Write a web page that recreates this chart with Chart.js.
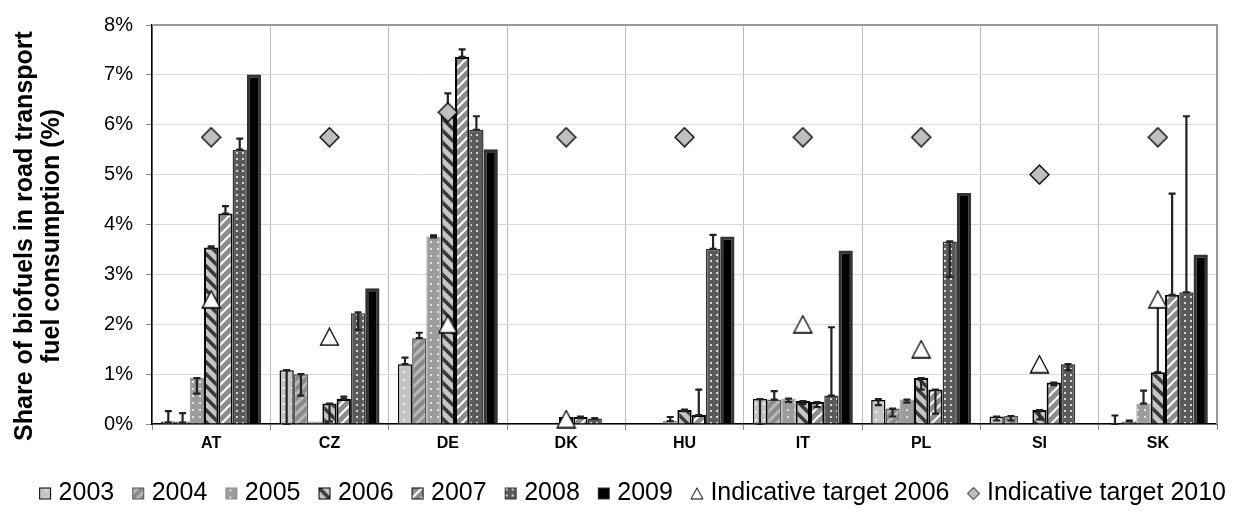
<!DOCTYPE html>
<html><head><meta charset="utf-8">
<script src="https://cdn.jsdelivr.net/npm/chart.js@4.4.1/dist/chart.umd.min.js"></script>
<style>html,body{margin:0;padding:0;background:#fff;}canvas{display:block;}</style>
</head><body>
<canvas id="c" width="1241" height="516"></canvas>
<script>
const categories = ['AT','CZ','DE','DK','HU','IT','PL','SI','SK'];
const seriesNames = ['2003','2004','2005','2006','2007','2008','2009'];
const targetNames = ['Indicative target 2006','Indicative target 2010'];
const yTickLabels = ['0%','1%','2%','3%','4%','5%','6%','7%','8%'];
const yTitleLines = ['Share of biofuels in road transport','fuel consumption (%)'];

const share2003 = [0.05, 1.08, 1.20, 0.01, 0.01, 0.50, 0.48, 0.15, 0.01];
const share2004 = [0.05, 1.00, 1.72, 0.01, 0.01, 0.49, 0.31, 0.16, 0.05];
const share2005 = [0.92, 0.05, 3.76, 0.01, 0.06, 0.51, 0.49, 0.01, 0.41];
const share2006 = [3.54, 0.41, 6.22, 0.14, 0.28, 0.46, 0.92, 0.28, 1.04];
const share2007 = [4.22, 0.50, 7.36, 0.14, 0.18, 0.44, 0.69, 0.83, 2.59];
const share2008 = [5.50, 2.22, 5.90, 0.11, 3.51, 0.57, 3.66, 1.20, 2.64];
const share2009 = [7.01, 2.72, 5.51, null, 3.76, 3.48, 4.63, null, 3.40];

const low2003  = [0.03, 0.00, 1.20, null, null, 0.00, 0.38, 0.07, 0.00];
const high2003 = [0.26, 1.08, 1.33, null, null, 0.50, 0.50, 0.15, 0.17];
const low2004  = [0.03, 0.57, 1.72, null, null, 0.49, 0.15, 0.07, 0.05];
const high2004 = [0.22, 1.00, 1.83, null, null, 0.66, 0.31, 0.16, 0.07];
const low2005  = [0.61, null, 3.74, null, 0.06, 0.44, 0.43, null, 0.41];
const high2005 = [0.92, null, 3.78, null, 0.14, 0.51, 0.49, null, 0.67];
const low2006  = [3.52, 0.05, 6.22, null, 0.26, 0.40, 0.69, 0.09, 1.04];
const high2006 = [3.56, 0.41, 6.63, null, 0.29, 0.46, 0.92, 0.28, 2.50];
const low2007  = [4.22, 0.50, 7.36, 0.13, 0.18, 0.34, 0.21, 0.78, 2.59];
const high2007 = [4.37, 0.55, 7.51, 0.15, 0.69, 0.44, 0.69, 0.83, 4.62];
const low2008  = [5.50, 1.89, 5.90, 0.10, 3.51, 0.57, 2.95, 1.08, 2.64];
const high2008 = [5.72, 2.24, 6.17, 0.12, 3.79, 1.94, 3.66, 1.20, 6.17];

const target2006 = [2.5, 1.75, 2.0, 0.1, null, 2.0, 1.5, 1.2, 2.5];
const target2010 = [5.75, 5.75, 6.25, 5.75, 5.75, 5.75, 5.75, 5.0, 5.75];

const FONT = "'Liberation Sans', Arial, sans-serif";
const canvas = document.getElementById('c');
const ctx = canvas.getContext('2d');

function mk(w, h, draw) { const c = document.createElement('canvas'); c.width = w; c.height = h; draw(c.getContext('2d'), w, h); return c; }
function dotsTile(s, bg, dot, dx, dy, ds) { return mk(s, s, (g) => { g.fillStyle = bg; g.fillRect(0,0,s,s); g.fillStyle = dot; g.fillRect(dx,dy,ds,ds); }); }
function stripeTile(s, bg, fg, w, dir) {
  return mk(s, s, (g) => {
    g.fillStyle = bg; g.fillRect(0,0,s,s);
    g.strokeStyle = fg; g.lineWidth = w; g.lineCap = 'square';
    for (let k = -1; k <= 1; k++) {
      g.beginPath();
      if (dir === '/') { g.moveTo(k*s, s); g.lineTo(k*s + s, 0); }
      else { g.moveTo(k*s, 0); g.lineTo(k*s + s, s); }
      g.stroke();
    }
  });
}
const tiles = [
  dotsTile(8, '#c4c4c4', '#eeeeee', 3, 3, 2),
  stripeTile(10, '#8a8a8a', '#b9b9b9', 3, '/'),
  dotsTile(7, '#9c9c9c', '#e2e2e2', 3, 3, 2),
  stripeTile(12, '#c6c6c6', '#383838', 3.5, '\\'),
  stripeTile(10, '#ffffff', '#8c8c8c', 5, '/'),
  dotsTile(6, '#5a5a5a', '#d6d6d6', 2, 2, 2),
  mk(4, 4, (g) => { g.fillStyle = '#000'; g.fillRect(0,0,4,4); })
];
const borders = [['#000',1.5],['#555',1.5],['#8e8e8e',1],['#000',2],['#000',2],['#333',1.5],['#333',3]];
const patterns = tiles.map(t => ctx.createPattern(t, 'repeat'));

const shares = [share2003, share2004, share2005, share2006, share2007, share2008, share2009];
const lows = [low2003, low2004, low2005, low2006, low2007, low2008, null];
const highs = [high2003, high2004, high2005, high2006, high2007, high2008, null];

const triImg = mk(21, 19, (g) => { g.beginPath(); g.moveTo(10.5,1); g.lineTo(19.5,18); g.lineTo(1.5,18); g.closePath(); g.fillStyle='#fff'; g.fill(); g.strokeStyle='#000'; g.lineWidth=1.3; g.stroke(); });
const diaImg = mk(21, 21, (g) => { g.beginPath(); g.moveTo(10.5,1); g.lineTo(20,10.5); g.lineTo(10.5,20); g.lineTo(1,10.5); g.closePath(); g.fillStyle='#bfbfbf'; g.fill(); g.strokeStyle='#000'; g.lineWidth=1.3; g.stroke(); });

const LIW = 30, LIH = 14, BX = 13;
const legendIcons = tiles.map((t, i) => mk(LIW, LIH, (g) => {
  g.fillStyle = g.createPattern(t, 'repeat'); g.fillRect(BX, 1, 12, 12);
  g.strokeStyle = borders[i][0]; g.lineWidth = 1; g.strokeRect(BX + 0.5, 1.5, 11, 11);
}));
legendIcons.push(mk(LIW, LIH, (g) => { g.beginPath(); g.moveTo(BX+6,1.5); g.lineTo(BX+12,12.5); g.lineTo(BX,12.5); g.closePath(); g.fillStyle='#fff'; g.fill(); g.strokeStyle='#000'; g.lineWidth=1; g.stroke(); }));
legendIcons.push(mk(LIW, LIH, (g) => { g.beginPath(); g.moveTo(BX+6,1); g.lineTo(BX+12,7); g.lineTo(BX+6,13); g.lineTo(BX,7); g.closePath(); g.fillStyle='#bfbfbf'; g.fill(); g.strokeStyle='#000'; g.lineWidth=1; g.stroke(); }));

const datasets = seriesNames.map((name, i) => ({
  type: 'bar', label: name, data: shares[i],
  backgroundColor: patterns[i], borderColor: borders[i][0], borderWidth: borders[i][1],
  errLow: lows[i], errHigh: highs[i], order: 1
}));
datasets.push({ type: 'line', label: targetNames[0], data: target2006, showLine: false, pointStyle: triImg, pointRadius: 10, clip: false, order: 0 });
datasets.push({ type: 'line', label: targetNames[1], data: target2010, showLine: false, pointStyle: diaImg, pointRadius: 10, clip: false, order: 0 });

const errorBars = {
  id: 'errorBars',
  afterDatasetDraw(chart, args) {
    const ds = chart.data.datasets[args.index];
    if (!ds.errLow) return;
    const y = chart.scales.y, c = chart.ctx;
    c.save();
    c.strokeStyle = '#222'; c.lineWidth = 2.2; c.lineCap = 'butt';
    args.meta.data.forEach((el, j) => {
      const lo = ds.errLow[j], hi = ds.errHigh[j];
      if (lo == null || hi == null) return;
      const x = el.x, yl = y.getPixelForValue(lo), yh = y.getPixelForValue(hi);
      c.beginPath();
      c.moveTo(x, yl); c.lineTo(x, yh);
      c.moveTo(x - 3.5, yl); c.lineTo(x + 3.5, yl);
      c.moveTo(x - 3.5, yh); c.lineTo(x + 3.5, yh);
      c.stroke();
    });
    c.restore();
  }
};

const frame = {
  id: 'frame',
  beforeDatasetsDraw(chart) {
    const a = chart.chartArea, c = chart.ctx;
    c.save();
    c.strokeStyle = '#9a9a9a'; c.lineWidth = 2;
    c.beginPath(); c.moveTo(a.left, a.top); c.lineTo(a.right, a.top); c.lineTo(a.right, a.bottom); c.stroke();
    c.restore();
  },
  afterDraw(chart) {
    const c = chart.ctx;
    c.save();
    c.fillStyle = '#000';
    c.font = 'bold 25px ' + FONT;
    c.textAlign = 'center'; c.textBaseline = 'middle';
    c.translate(25, 236); c.rotate(-Math.PI / 2);
    c.fillText(yTitleLines[0], 0, 0);
    c.fillText(yTitleLines[1], 0, 27);
    c.restore();
  }
};

new Chart(ctx, {
  data: { labels: categories, datasets },
  plugins: [errorBars, frame],
  options: {
    responsive: false, animation: false, devicePixelRatio: 1,
    layout: { padding: { top: 20, left: 0, right: 0, bottom: 0 } },
    categoryPercentage: 0.845, barPercentage: 1.0,
    plugins: {
      tooltip: { enabled: false },
      legend: {
        position: 'bottom', align: 'end',
        labels: {
          usePointStyle: true, pointStyleWidth: 10, padding: 15,
          font: { family: FONT, size: 25 }, color: '#000',
          generateLabels: (chart) => chart.data.datasets.map((ds, i) => ({
            text: ds.label, pointStyle: legendIcons[i], fillStyle: 'transparent',
            strokeStyle: 'transparent', lineWidth: 0, hidden: false, datasetIndex: i, fontColor: '#000'
          }))
        }
      }
    },
    scales: {
      x: {
        offset: true,
        grid: { offset: true, color: '#bdbdbd', lineWidth: 1, tickLength: 6, tickColor: '#8a8a8a' },
        border: { color: '#000', width: 1.5 },
        ticks: { font: { family: FONT, size: 16, weight: 'bold' }, color: '#000', padding: 4, maxRotation: 0 },
        afterFit: (s) => { s.height = 42; }
      },
      y: {
        min: 0, max: 8,
        ticks: { stepSize: 1, padding: 13, font: { family: FONT, size: 20 }, color: '#000',
                 callback: (v, i) => yTickLabels[i] },
        grid: { color: '#dadada', lineWidth: 1, tickLength: 6, tickColor: '#8a8a8a' },
        border: { color: '#000', width: 1.5 },
        afterFit: (s) => { s.width = 152; }
      },
      yr: {
        position: 'right', display: true,
        ticks: { display: false }, grid: { display: false }, border: { display: false },
        afterFit: (s) => { s.width = 24; }
      }
    }
  }
});
</script>
</body></html>
